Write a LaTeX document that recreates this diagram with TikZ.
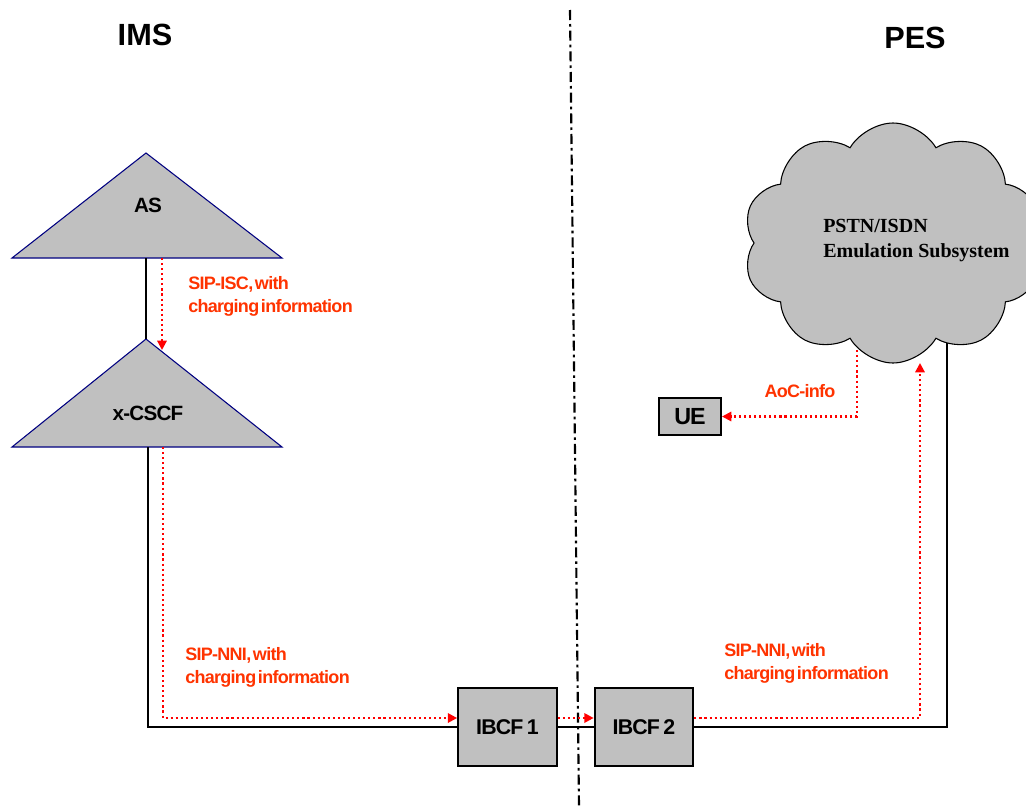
\documentclass[tikz,border=0pt]{standalone}
\usepackage{fontspec}
\setmainfont{Liberation Sans}
\newfontfamily\serifb{Liberation Serif}
\newfontfamily\tightsans[LetterSpace=-4,WordSpace=0.4]{Liberation Sans}
\usetikzlibrary{shapes.symbols,arrows.meta,calc}
\definecolor{boxgray}{RGB}{192,192,192}
\definecolor{navyline}{RGB}{0,0,128}
\definecolor{sigred}{RGB}{255,0,0}
\definecolor{lblred}{RGB}{255,51,0}
\begin{document}
\begin{tikzpicture}[x=0.75pt,y=-0.75pt,
  tri/.style={draw=navyline,fill=boxgray,line width=0.8pt,line join=miter},
  fbox/.style={draw=black,fill=boxgray,line width=1.5pt,inner sep=0pt,font=\tightsans\bfseries\fontsize{16}{18}\selectfont},
  link/.style={draw=black,line width=1.5pt},
  sig/.style={draw=sigred,line width=1.6pt,dash pattern=on 1.6pt off 2.2pt,-{Triangle[length=7pt,width=7pt]}},
  lbl/.style={text=lblred,font=\tightsans\bfseries\fontsize{13.5}{17.25}\selectfont,align=left,inner sep=0pt,anchor=west},
  ttl/.style={font=\bfseries\fontsize{23}{27}\selectfont,inner sep=0pt},
  tlbl/.style={font=\tightsans\bfseries\fontsize{15.5}{18}\selectfont,inner sep=0pt}]
\useasboundingbox (0,0) rectangle (1026,811);

% divider
\coordinate (dtop) at (570,10);
\coordinate (dbot) at (579,806);
\draw[line width=1.6pt,dash pattern=on 7.5pt off 3pt on 2pt off 3pt] (dtop) -- (dbot);

% titles
\node[ttl] (ims) at (145,35) {IMS};
\node[ttl] (pes) at (915,38) {PES};

% AS triangle
\coordinate (asapex) at (146,153);
\coordinate (asbase) at (146,258);
\draw[tri] (asapex) -- (282,258) -- (12,258) -- cycle;
\node[tlbl] (aslbl) at (148,205) {AS};

% x-CSCF triangle
\coordinate (xapex) at (146,339);
\coordinate (xbase) at (148,447);
\draw[tri] (xapex) -- (282,447) -- (12,447) -- cycle;
\node[tlbl] (xlbl) at (148,413) {x-CSCF};

% boxes
\node[fbox,minimum width=74pt,minimum height=58.5pt] (ibcf1) at (507.5,727) {IBCF\,1};
\node[fbox,minimum width=74pt,minimum height=58.5pt] (ibcf2) at (644,727) {IBCF\,2};
\node[fbox,minimum width=46.5pt,minimum height=27.75pt,font=\tightsans\bfseries\fontsize{17.5}{19}\selectfont] (ue) at (690,416.5) {UE};

% cloud connection points
\coordinate (cloudblack) at (947,325);
\coordinate (cloudin) at (920,363);
\coordinate (cloudout) at (857,340);

% black links
\draw[link] (asbase) -- (xapex);
\draw[link] (xbase) |- (ibcf1.west);
\draw[link] (ibcf1.east) -- (ibcf2.west);
\draw[link] (ibcf2.east) -| (cloudblack);

% red signalling
\draw[sig] (162,258) -- (162,350);
\draw[sig] (163,447) |- ($(ibcf1.west)+(0,-9)$);
\draw[sig] ($(ibcf1.east)+(0,-9)$) -- ($(ibcf2.west)+(0,-9)$);
\draw[sig] ($(ibcf2.east)+(0,-9)$) -| (cloudin);
\draw[sig] (cloudout) |- (ue.east);

% cloud (drawn over connector ends)
\node[cloud,cloud puffs=10,cloud puff arc=120,aspect=1.15,draw=black,fill=boxgray,line width=0.8pt,
      minimum width=225pt,minimum height=180pt] (cloud) at (893,243) {};
\node[font=\serifb\bfseries\fontsize{15}{18.75}\selectfont,align=left,anchor=west,inner sep=0pt] (cloudlbl) at (823,240.5) {PSTN/ISDN\\Emulation Subsystem};

% labels
\node[lbl] (l1) at (188,296.5) {SIP-ISC, with\\charging information};
\node[lbl] (l2) at (185,667) {SIP-NNI, with\\charging information};
\node[lbl] (l3) at (724,663.5) {SIP-NNI, with\\charging information};
\node[text=lblred,font=\tightsans\bfseries\fontsize{13.5}{15}\selectfont,inner sep=0pt] (aoc) at (800,391) {AoC-info};
\end{tikzpicture}
\end{document}
